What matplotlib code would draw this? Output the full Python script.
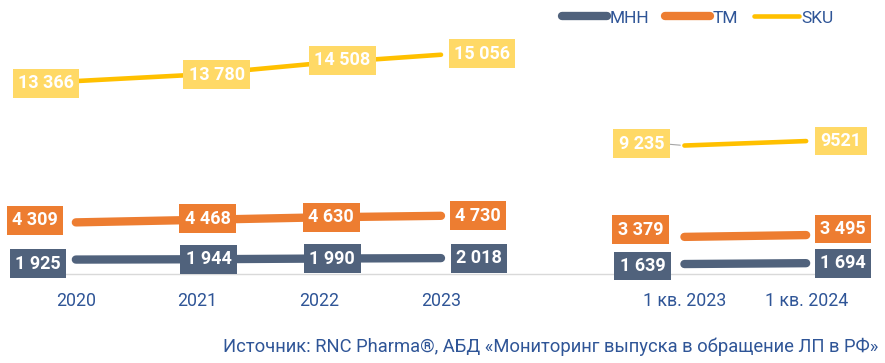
import numpy as np
import matplotlib
matplotlib.use('Agg')
import matplotlib.pyplot as plt

plt.rcParams['font.family'] = ['Roboto', 'DejaVu Sans']

# категории (позиция 4 - пустой разрыв между годами и кварталами)
categories = ['2020', '2021', '2022', '2023', '', '1 кв. 2023', '1 кв. 2024']
mnn = [1925, 1944, 1990, 2018, np.nan, 1639, 1694]
tm = [4309, 4468, 4630, 4730, np.nan, 3379, 3495]
sku = [13366, 13780, 14508, 15056, np.nan, 9235, 9521]
labels_mnn = ['1 925', '1 944', '1 990', '2 018', '', '1 639', '1 694']
labels_tm = ['4 309', '4 468', '4 630', '4 730', '', '3 379', '3 495']
labels_sku = ['13 366', '13 780', '14 508', '15 056', '', '9 235', '9521']

c_mnn = '#50627C'
c_tm = '#ED7D31'
c_sku = '#FFC000'
c_sku_box = '#FFD966'
c_text = '#2F5597'

# смещения подписей, px (dx вправо, dy вниз)
off_mnn = [(-38, 4), (11, 0), (13, 0), (38, 0), None, (-42, 2), (37, 0)]
off_tm = [(-41, -2), (10, -1), (12, 0), (37, 0), None, (-44, -7), (37, -6)]
off_sku = [(-30, 2), (19, 0), (23, -3), (41, -1), None, (-43, -2), (35, 0)]

fig = plt.figure(figsize=(8.85, 3.63), dpi=100)
ax = fig.add_axes([15 / 885, 89 / 363, 852 / 885, 249.6 / 363])

x = np.arange(len(categories))
ax.plot(x, mnn, color=c_mnn, lw=6, solid_capstyle='round', label='МНН', zorder=2)
ax.plot(x, tm, color=c_tm, lw=6, solid_capstyle='round', label='ТМ', zorder=2)
ax.plot(x, sku, color=c_sku, lw=3.3, solid_capstyle='round', label='SKU', zorder=2)

ax.set_xlim(-0.5, 6.5)
ax.set_ylim(1000, 17000)


def put_labels(vals, texts, offs, fc):
    for i, v in enumerate(vals):
        if np.isnan(v):
            continue
        dx, dy = offs[i]
        ax.annotate(texts[i], xy=(i, v), xytext=(dx * 0.72, -dy * 0.72),
                    textcoords='offset points', ha='center', va='center',
                    fontsize=13, fontweight='bold', color='white', zorder=5,
                    bbox=dict(boxstyle='square,pad=0.3', fc=fc, ec='none'))


put_labels(mnn, labels_mnn, off_mnn, c_mnn)
put_labels(tm, labels_tm, off_tm, c_tm)
put_labels(sku, labels_sku, off_sku, c_sku_box)

# выноска от подписи 9 235
ax.annotate('', xy=(5, sku[5]), xytext=(-12, 1), textcoords='offset points',
            arrowprops=dict(arrowstyle='-', color='#A6A6A6', lw=0.8, shrinkA=0, shrinkB=3),
            zorder=1)

for s in ['top', 'right', 'left']:
    ax.spines[s].set_visible(False)
ax.spines['bottom'].set_color('#D9D9D9')
ax.spines['bottom'].set_linewidth(1)
ax.set_yticks([])
ax.set_xticks(x)
ax.set_xticklabels(categories)
ax.tick_params(axis='x', length=0, pad=13, labelsize=12.8, labelcolor=c_text)

leg = fig.legend(loc='upper right', bbox_to_anchor=(844 / 885, 1.0), ncol=3,
                 frameon=False, fontsize=12.5, handlelength=2.6, handletextpad=0.15,
                 columnspacing=0.9, borderaxespad=0.2)
for t in leg.get_texts():
    t.set_color(c_text)

fig.text(878 / 885, 1 - 347 / 363, 'Источник: RNC Pharma®, АБД «Мониторинг выпуска в обращение ЛП в РФ»',
         ha='right', va='center', fontsize=13.2, color=c_text)

fig.savefig('out.png', dpi=100)
